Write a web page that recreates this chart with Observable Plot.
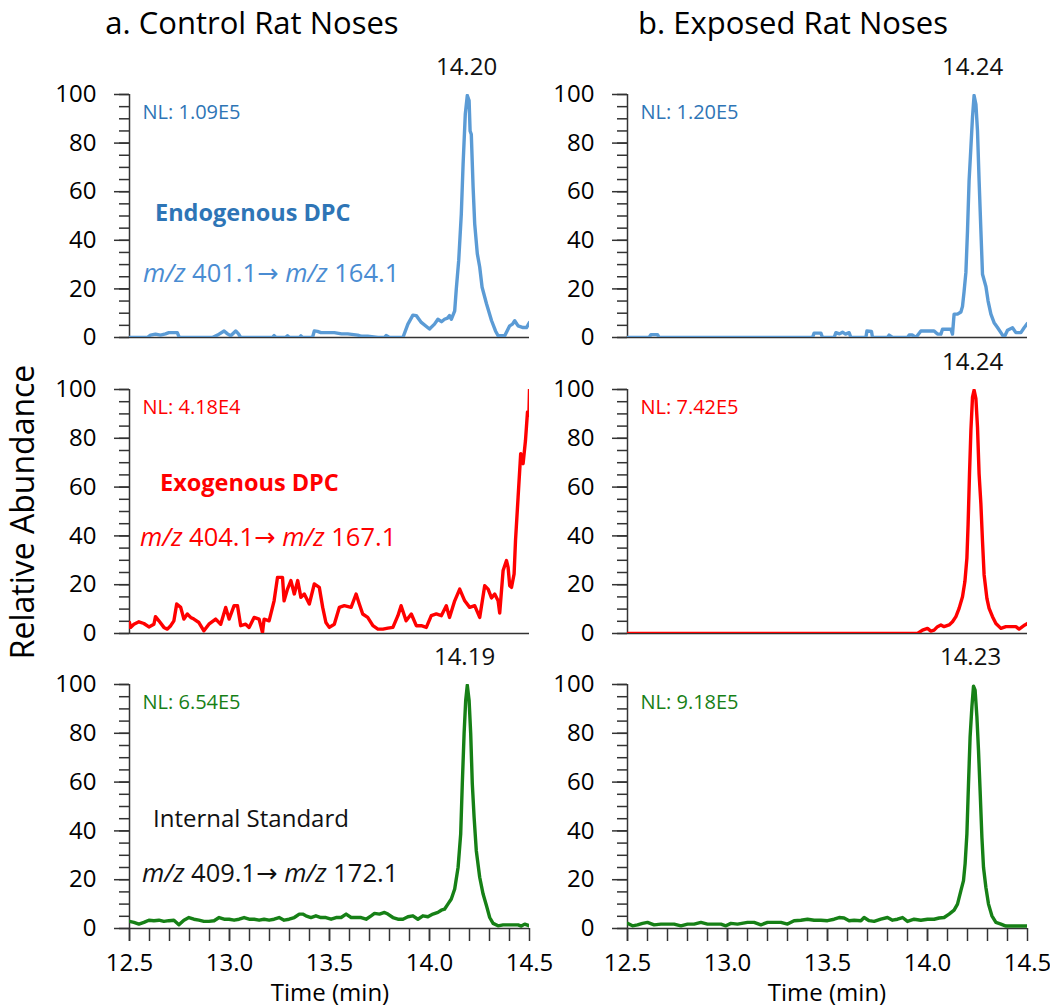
<!DOCTYPE html>
<html><head><meta charset="utf-8">
<script src="https://cdn.jsdelivr.net/npm/d3@7"></script>
<script src="https://cdn.jsdelivr.net/npm/@observablehq/plot@0.6"></script>
<style>
body{margin:0;background:#fff;font-family:"Open Sans",sans-serif;}
#root{position:relative;width:1050px;height:1008px;overflow:hidden;background:#fff;}
.abs{position:absolute;white-space:nowrap;line-height:1.25;}
</style></head><body><div id="root"></div>
<script>
// ---------- DATA ----------
const columnTitles = ["a. Control Rat Noses", "b. Exposed Rat Noses"];
const yAxisTitle = "Relative Abundance";
const xAxisTitle = "Time (min)";
const xDomain = [12.5, 14.5];
const yDomain = [0, 100];
const xTicksMajor = [12.5, 13.0, 13.5, 14.0, 14.5];
const xTicksMinor = [12.5,12.6,12.7,12.8,12.9,13.0,13.1,13.2,13.3,13.4,13.5,13.6,13.7,13.8,13.9,14.0,14.1,14.2,14.3,14.4];
const yTicksMajor = [0, 20, 40, 60, 80, 100];
const yTicksMinor = [0,5,10,15,20,25,30,35,40,45,50,55,60,65,70,75,80,85,90,95,100];

const nlLabels = ["NL: 1.09E5", "NL: 1.20E5", "NL: 4.18E4", "NL: 7.42E5", "NL: 6.54E5", "NL: 9.18E5"];
const peakLabels = ["14.20", "14.24", "", "14.24", "14.19", "14.23"];
const compoundNames = ["Endogenous DPC", "Exogenous DPC", "Internal Standard"];
const transitions = [["401.1", "164.1"], ["404.1", "167.1"], ["409.1", "172.1"]];

// [time (min), relative abundance (%)]
const ctrlEndo = [[12.5,0],[12.589,0],[12.605,1],[12.63,1.4],[12.655,1],[12.68,1.5],[12.697,2],[12.739,2],[12.749,0],[12.914,0],[12.94,1],[12.973,2.7],[12.99,1.5],[13.006,0.7],[13.031,2.7],[13.045,1.5],[13.056,0],[13.215,0],[13.223,0.8],[13.232,0],[13.28,0],[13.29,0.7],[13.30,0],[13.35,0],[13.357,0.7],[13.365,0],[13.415,0],[13.424,2.7],[13.44,2.5],[13.457,2],[13.524,2],[13.56,1.5],[13.591,1.5],[13.641,1],[13.66,0.5],[13.691,0.5],[13.742,0],[13.775,0],[13.783,0.8],[13.80,0],[13.867,0],[13.892,5.5],[13.917,9.2],[13.934,9],[13.959,6.2],[14.0,3.5],[14.025,5.5],[14.042,7.5],[14.06,6.5],[14.075,7.5],[14.09,8],[14.1,9],[14.109,7.5],[14.126,11],[14.134,20],[14.146,31.6],[14.159,50.8],[14.168,71.4],[14.179,92],[14.189,99.6],[14.198,97.5],[14.203,85],[14.209,83.6],[14.218,61.9],[14.226,46.8],[14.239,34.5],[14.251,29],[14.263,20.7],[14.285,13.9],[14.31,7],[14.33,2.7],[14.343,0.7],[14.376,0.7],[14.401,4.8],[14.415,5.5],[14.426,6.9],[14.443,4.8],[14.468,4.1],[14.485,4.1],[14.5,6.2]];
const expEndo = [[12.5,0],[12.608,0],[12.617,1.2],[12.65,1.2],[12.658,0],[13.425,0],[13.433,1.8],[13.467,1.8],[13.475,0],[13.533,0],[13.542,2],[13.56,1.5],[13.575,2.2],[13.59,1.4],[13.608,2],[13.617,0],[13.692,0],[13.697,2.7],[13.72,2.5],[13.725,0],[13.80,0],[13.808,1],[13.825,0],[13.90,0],[13.908,1],[13.925,1],[13.942,0],[13.967,2.7],[14.033,2.7],[14.05,1.4],[14.067,1.4],[14.075,3.4],[14.117,3.4],[14.125,1.4],[14.133,9.6],[14.15,9.6],[14.167,10.5],[14.175,12.8],[14.183,19],[14.192,26.8],[14.2,43.9],[14.208,64.6],[14.217,78.3],[14.225,90.7],[14.233,99.6],[14.242,96],[14.25,85],[14.258,64.6],[14.267,43.9],[14.275,26],[14.292,21],[14.303,15],[14.317,9.6],[14.333,6.1],[14.35,4.1],[14.367,2],[14.383,0],[14.4,3],[14.425,4],[14.442,2],[14.467,2],[14.483,4],[14.5,5.8]];
const ctrlExo = [[12.5,4.5],[12.505,2.5],[12.522,3.8],[12.547,4.8],[12.572,4.1],[12.597,2.7],[12.622,3.8],[12.63,6.9],[12.647,5.2],[12.672,2.5],[12.689,1.8],[12.706,3.2],[12.722,5.2],[12.736,12.1],[12.756,10.7],[12.772,5.9],[12.789,8],[12.806,6.6],[12.822,5.9],[12.847,4.5],[12.872,1.1],[12.897,3.8],[12.931,5.9],[12.956,3.8],[12.981,10.7],[12.998,5.9],[13.023,11.4],[13.04,11.4],[13.056,3.2],[13.081,3.8],[13.098,2.5],[13.123,6.6],[13.148,5.9],[13.165,0.4],[13.173,5.9],[13.198,5.2],[13.223,13.4],[13.24,23],[13.265,23],[13.273,13.4],[13.29,18.2],[13.307,21.7],[13.324,16.2],[13.341,21.7],[13.357,14.8],[13.374,16.2],[13.399,12.1],[13.424,20.3],[13.449,18.9],[13.466,10.7],[13.482,4.5],[13.499,2.5],[13.524,3.8],[13.549,10.7],[13.574,11.4],[13.608,10.7],[13.633,16.2],[13.649,12.1],[13.666,8],[13.691,6.6],[13.717,3.2],[13.742,1.8],[13.767,1.8],[13.792,2.2],[13.817,2.5],[13.842,7.3],[13.858,11.4],[13.883,5.2],[13.909,8],[13.934,3.2],[13.959,3.2],[13.984,2.5],[14.009,7.3],[14.034,8],[14.059,7.3],[14.084,11.4],[14.1,6.6],[14.126,13.4],[14.151,18.2],[14.176,13.4],[14.201,10.7],[14.226,11.4],[14.251,6.6],[14.276,19.6],[14.293,18.2],[14.31,14.6],[14.326,16.2],[14.343,13.4],[14.351,8.4],[14.368,25.8],[14.385,29.9],[14.393,27.1],[14.401,19.6],[14.41,18.9],[14.423,24.4],[14.43,38],[14.443,55.9],[14.456,73.7],[14.468,69.6],[14.48,79.2],[14.49,90.8],[14.497,89.4],[14.5,100]];
const expExo = [[12.5,0],[13.95,0],[13.975,1.4],[14.0,2.1],[14.017,1],[14.033,1.4],[14.05,2.8],[14.067,3.5],[14.083,2.8],[14.108,3.5],[14.125,4.8],[14.142,6.9],[14.158,10.3],[14.175,15.1],[14.187,21.3],[14.197,30.9],[14.203,44.7],[14.21,65.3],[14.217,83.2],[14.225,96.9],[14.233,99.7],[14.242,96.3],[14.25,84.6],[14.258,65.3],[14.267,53],[14.275,37.8],[14.283,24.1],[14.297,14.4],[14.308,10.3],[14.325,6.9],[14.342,4.1],[14.367,2.1],[14.392,2.8],[14.417,2.8],[14.442,2.8],[14.458,1.8],[14.475,2.8],[14.487,3.5],[14.5,4.1]];
const ctrlIS = [[12.5,2.9],[12.522,2.5],[12.547,1.8],[12.572,2.5],[12.597,3.4],[12.622,3.2],[12.647,3.4],[12.672,2.9],[12.697,3.2],[12.722,3.4],[12.747,1.5],[12.772,3.4],[12.797,4.5],[12.822,3.8],[12.847,3.4],[12.872,2.9],[12.897,2.9],[12.923,3.2],[12.948,4.5],[12.973,3.8],[12.998,3.8],[13.023,3.4],[13.048,3.8],[13.073,4.5],[13.098,3.8],[13.123,3.8],[13.148,3.4],[13.173,3.8],[13.198,3.4],[13.223,3.8],[13.248,4.5],[13.273,3.4],[13.298,3.8],[13.324,4.5],[13.349,5.9],[13.366,5.9],[13.382,5.2],[13.407,4.5],[13.432,5.2],[13.457,4.5],[13.482,4.5],[13.508,3.8],[13.533,4.5],[13.558,4.5],[13.583,5.9],[13.608,4.5],[13.633,4.5],[13.658,4.5],[13.683,3.8],[13.708,5.2],[13.725,6.2],[13.75,5.9],[13.775,6.6],[13.792,5.9],[13.817,4.5],[13.842,3.8],[13.867,3.8],[13.892,4.8],[13.917,5.2],[13.942,3.8],[13.967,5.2],[13.992,4.8],[14.017,5.9],[14.042,6.6],[14.059,7.5],[14.075,7.9],[14.092,10],[14.109,12.1],[14.126,16.2],[14.143,25.1],[14.156,38.8],[14.164,59.3],[14.173,79.9],[14.181,93.5],[14.189,99.7],[14.198,93.5],[14.206,79.9],[14.214,59.3],[14.223,45.6],[14.234,31.9],[14.251,21],[14.268,14.1],[14.285,9.3],[14.301,4.5],[14.318,2.1],[14.343,1.1],[14.368,1.5],[14.393,1.5],[14.418,1.5],[14.443,1.5],[14.459,1],[14.476,1.8],[14.5,1.1]];
const expIS = [[12.5,2.1],[12.525,1.1],[12.55,1.5],[12.575,2.1],[12.6,2.5],[12.633,1.5],[12.667,1.8],[12.7,1.8],[12.733,1.8],[12.767,1.1],[12.8,1.8],[12.833,1.8],[12.867,2.5],[12.9,1.8],[12.933,1.8],[12.967,1.8],[12.992,1.1],[13.017,2.1],[13.05,1.8],[13.1,2.5],[13.133,2.5],[13.167,1.5],[13.2,2.5],[13.233,2.5],[13.267,2.5],[13.3,1.8],[13.333,3.2],[13.367,3.4],[13.4,3.8],[13.433,3.4],[13.467,3.4],[13.5,3.2],[13.533,3.8],[13.558,4.5],[13.583,4.3],[13.608,3.2],[13.633,3.4],[13.667,3.2],[13.683,4.5],[13.708,3.2],[13.733,2.9],[13.767,3.8],[13.8,4.5],[13.825,3.4],[13.85,3.8],[13.875,4.5],[13.9,2.9],[13.933,3.8],[13.967,3.4],[14.0,3.8],[14.033,3.8],[14.058,4.3],[14.083,4.5],[14.108,5.9],[14.133,7.5],[14.15,10],[14.167,15.5],[14.18,19.6],[14.188,26.5],[14.197,38.8],[14.205,59.3],[14.213,78.5],[14.222,90.8],[14.23,99.3],[14.238,97.7],[14.247,86.7],[14.255,73],[14.263,56.6],[14.272,37.4],[14.28,25.1],[14.292,16.8],[14.305,10],[14.322,5.2],[14.342,2.5],[14.367,1.8],[14.392,1],[14.417,1],[14.45,1],[14.5,1]];

// ---------- STYLE ----------
const lineColors = ["#5B9BD5", "#FF0000", "#168016"];
const nlColors = ["#2E75B6", "#FF0000", "#168016"];
const nameColors = ["#2E75B6", "#FF0000", "#111111"];
const mzColors = ["#4A8CD2", "#FF0000", "#111111"];
const axisColor = "#333";
const FONT = '"Open Sans", "DejaVu Sans", sans-serif';

const series = [ctrlEndo, expEndo, ctrlExo, expExo, ctrlIS, expIS];
const cols = [{left: 0, width: 560, ml: 129, mr: 31}, {left: 525, width: 525, ml: 102, mr: 23}];
const rows = [{top: 40, mt: 54, fh: 243, mb: 12}, {top: 335, mt: 54, fh: 244, mb: 12}, {top: 630, mt: 54, fh: 244, mb: 80}];

const root = document.getElementById("root");

function addText(txt, css) {
  const d = document.createElement("div");
  d.className = "abs";
  if (typeof txt === "string") d.textContent = txt; else d.innerHTML = txt.html;
  Object.assign(d.style, css);
  root.appendChild(d);
  return d;
}

series.forEach((s, i) => {
  const r = Math.floor(i / 2), c = i % 2;
  const col = cols[c], row = rows[r];
  const data = s.map(([t, v]) => ({t, v}));
  const bottom = r === 2;
  const marks = [
    Plot.axisY({ticks: yTicksMinor, tickSize: 10, fill: "none", stroke: axisColor, strokeWidth: 1.5, label: null}),
    Plot.axisY({ticks: yTicksMajor, tickSize: 15, tickPadding: 18, stroke: axisColor, strokeWidth: 1.5, fill: "#000", label: null}),
    Plot.ruleX([xDomain[0]], {y1: yDomain[0], y2: yDomain[1], stroke: axisColor, strokeWidth: 1.5}),
    Plot.ruleY([yDomain[0]], {stroke: axisColor, strokeWidth: 1.5}),
    Plot.line(data, {x: "t", y: "v", stroke: lineColors[r], strokeWidth: 3.4, strokeLinejoin: "round", clip: true}),
    Plot.text([nlLabels[i]], {frameAnchor: "top-left", dx: 13, dy: 18, text: d => d, fill: nlColors[r], fontSize: 20, textAnchor: "start", lineAnchor: "middle"})
  ];
  if (peakLabels[i]) {
    marks.push(Plot.text([{t: +peakLabels[i], v: yDomain[1], label: peakLabels[i]}], {x: "t", y: "v", text: "label", dx: -3, dy: -27, fontSize: 24, fill: "#111", lineAnchor: "middle"}));
  }
  if (bottom) {
    marks.push(Plot.axisX({ticks: xTicksMinor, tickSize: 13, fill: "none", stroke: axisColor, strokeWidth: 1.5, label: null}));
    marks.push(Plot.axisX({ticks: xTicksMajor, tickSize: 13, tickPadding: 12, tickFormat: d3.format(".1f"), stroke: axisColor, strokeWidth: 1.5, fill: "#000", label: null}));
  }
  const svg = Plot.plot({
    width: col.width,
    height: row.mt + row.fh + row.mb,
    marginLeft: col.ml, marginRight: col.mr, marginTop: row.mt, marginBottom: row.mb,
    x: bottom ? {domain: xDomain, label: null} : {domain: xDomain, label: null, axis: null},
    y: {domain: yDomain, label: null},
    style: {fontFamily: FONT, fontSize: "24px", background: "transparent", color: "#000", overflow: "visible"},
    marks
  });
  svg.style.position = "absolute";
  svg.style.left = col.left + "px";
  svg.style.top = row.top + "px";
  svg.style.maxWidth = "none";
  root.appendChild(svg);
});

// column titles
addText(columnTitles[0], {left: "252px", top: "22px", transform: "translate(-50%,-50%)", fontSize: "31px", color: "#000", fontFamily: FONT});
addText(columnTitles[1], {left: "793px", top: "22px", transform: "translate(-50%,-50%)", fontSize: "31px", color: "#000", fontFamily: FONT});
// y title
addText(yAxisTitle, {left: "22px", top: "512px", transform: "translate(-50%,-50%) rotate(-90deg)", fontSize: "32px", color: "#000", fontFamily: FONT});
// x titles
addText(xAxisTitle, {left: "330px", top: "992px", transform: "translate(-50%,-50%)", fontSize: "24px", color: "#000", fontFamily: FONT});
addText(xAxisTitle, {left: "827px", top: "992px", transform: "translate(-50%,-50%)", fontSize: "24px", color: "#000", fontFamily: FONT});

// compound annotations (left column)
const namePos = [[155, 213], [160, 483], [153, 818]];
const mzPos = [[143, 273], [140, 537], [142, 873]];
compoundNames.forEach((n, k) => {
  addText(n, {left: namePos[k][0] + "px", top: namePos[k][1] + "px", transform: "translateY(-50%)", fontSize: k < 2 ? "23.5px" : "24px", fontWeight: k < 2 ? "700" : "400", color: nameColors[k], fontFamily: FONT});
  const [a, b] = transitions[k];
  addText({html: `<i>m/z</i> ${a}\u2192 <i>m/z</i> ${b}`}, {left: mzPos[k][0] + "px", top: mzPos[k][1] + "px", transform: "translateY(-50%)", fontSize: "25.5px", color: mzColors[k], fontFamily: FONT});
});
</script></body></html>
